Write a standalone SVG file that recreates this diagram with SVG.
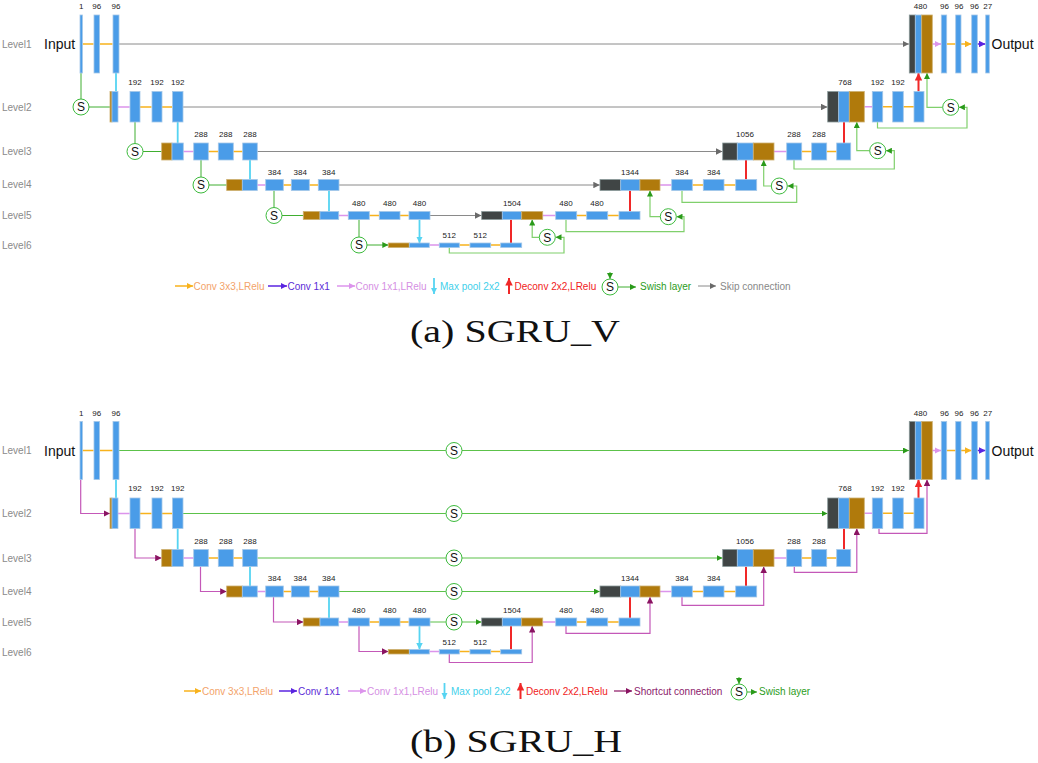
<svg xmlns="http://www.w3.org/2000/svg" width="1038" height="763" viewBox="0 0 1038 763">
<style>
.b{fill:#4a9ce8;stroke:#a3c7e8;stroke-width:.8}
.br{fill:#b07a0c;stroke:#cdb070;stroke-width:.8}
.dk{fill:#404545;stroke:#8a9a9a;stroke-width:.8}
.n{font-family:"Liberation Sans",Arial,sans-serif;font-size:8px;fill:#222;text-anchor:middle}
.lv{font-family:"Liberation Sans",Arial,sans-serif;font-size:10px;fill:#8a8a8a}
.io{font-family:"Liberation Sans",Arial,sans-serif;font-size:14px;fill:#111}
.s circle{fill:#fff;stroke:#3cba3c;stroke-width:1}
.s text{font-family:"Liberation Sans",Arial,sans-serif;font-size:12px;text-anchor:middle;fill:#111}
.lg{font-family:"Liberation Sans",Arial,sans-serif;font-size:10px}
.cap{font-family:"Liberation Serif","Times New Roman",serif;font-size:31px;fill:#111}
.o{stroke:#f8b21c;stroke-width:1.5;fill:none;marker-end:url(#mO)}
.p{stroke:#dc94ec;stroke-width:1.5;fill:none;marker-end:url(#mP)}
.c{stroke:#56d4f2;stroke-width:1.8;fill:none;marker-end:url(#mC)}
.r{stroke:#f02828;stroke-width:2;fill:none;marker-end:url(#mR)}
.u{stroke:#5a24e0;stroke-width:1.5;fill:none;marker-end:url(#mU)}
.g{stroke:#3fae30;stroke-width:1;fill:none;marker-end:url(#mG)}
.gl{stroke:#80d06c;stroke-width:1.2;fill:none;marker-end:url(#mG)}
.gs{stroke:#5cc24a;stroke-width:1.2;fill:none;marker-end:url(#mG)}
.k{stroke:#8a8a8a;stroke-width:1;fill:none;marker-end:url(#mK)}
.sc{stroke:#c458b8;stroke-width:1.2;fill:none;marker-end:url(#mS)}
</style>
<defs>
<marker id="mO" markerUnits="userSpaceOnUse" viewBox="0 0 10 10" refX="10" refY="5" markerWidth="6.5" markerHeight="6.5" orient="auto"><path d="M0,0L10,5L0,10z" fill="#f8b21c"/></marker>
<marker id="mP" markerUnits="userSpaceOnUse" viewBox="0 0 10 10" refX="10" refY="5" markerWidth="6.5" markerHeight="6.5" orient="auto"><path d="M0,0L10,5L0,10z" fill="#dc94ec"/></marker>
<marker id="mC" markerUnits="userSpaceOnUse" viewBox="0 0 10 10" refX="10" refY="5" markerWidth="6.5" markerHeight="6.5" orient="auto"><path d="M0,0L10,5L0,10z" fill="#56d4f2"/></marker>
<marker id="mR" markerUnits="userSpaceOnUse" viewBox="0 0 10 10" refX="10" refY="5" markerWidth="7.5" markerHeight="7.5" orient="auto"><path d="M0,0L10,5L0,10z" fill="#f02828"/></marker>
<marker id="mU" markerUnits="userSpaceOnUse" viewBox="0 0 10 10" refX="10" refY="5" markerWidth="6.5" markerHeight="6.5" orient="auto"><path d="M0,0L10,5L0,10z" fill="#5a24e0"/></marker>
<marker id="mG" markerUnits="userSpaceOnUse" viewBox="0 0 10 10" refX="10" refY="5" markerWidth="6" markerHeight="6" orient="auto"><path d="M0,0L10,5L0,10z" fill="#2a9a1a"/></marker>
<marker id="mK" markerUnits="userSpaceOnUse" viewBox="0 0 10 10" refX="10" refY="5" markerWidth="6.5" markerHeight="6.5" orient="auto"><path d="M0,0L10,5L0,10z" fill="#6a6a6a"/></marker>
<marker id="mS" markerUnits="userSpaceOnUse" viewBox="0 0 10 10" refX="10" refY="5" markerWidth="6.5" markerHeight="6.5" orient="auto"><path d="M0,0L10,5L0,10z" fill="#8a1462"/></marker>
</defs>
<rect width="1038" height="763" fill="#fff"/>

<!-- ================= PART A ================= -->
<g id="part-a">
<g id="a-levels">
<text class="lv" x="2" y="47.5">Level1</text>
<text class="lv" x="2" y="110.5">Level2</text>
<text class="lv" x="2" y="155">Level3</text>
<text class="lv" x="2" y="188">Level4</text>
<text class="lv" x="2" y="219">Level5</text>
<text class="lv" x="2" y="249">Level6</text>
</g>
<g id="a-connectors">
<path class="o" d="M82.5,44H93.5M99.5,44H112.5M140,107H151.5M162,107H172M208.3,151.5H218M233.3,151.5H242.5M283.3,185H291M309.3,185H318M369.3,215.5H379M400,215.5H408.7M459.3,245H469.7M490.7,245H500.5M576.7,215.5H586.5M607.7,215.5H618.7M692.3,185H703M724,185H735.5M801.7,151.5H811.5M826.7,151.5H836.5M882.7,106.7H892.5M903.3,106.7H913.8M946.7,44H955.5M961,44H971.5"/>
<path class="u" d="M977.3,44H985.5"/>
<path class="p" d="M118,107H129.7M183.3,151.5H193.5M257.3,185H265.5M338.7,215.5H348M429.3,245H439M542.7,215.5H555.5M660,185H671.5M774,151.5H786.5M864.3,106.7H872M932.3,44H941"/>
<path class="k" d="M119,44H909"/>
<path class="k" d="M183,107H827.5"/>
<path class="k" d="M257.3,151.5H722.5"/>
<path class="k" d="M339,185H599.8"/>
<path class="k" d="M430,215.5H481.5"/>
<path class="c" d="M116,73V91.5M177.7,122V143M250,160V179.5M329,190.5V211.5M419.5,219.5V243"/>
<path class="r" d="M511,243V219.5M630,211.5V190.5M746,179.5V160M844,143V122M918.5,91.5V73"/>
<path class="g" d="M81,73V99M89,107H110M135,122V143.5M143,151.5H161.7M201,160V177M209,185H226.7M274,190.5V207.5M282,215.5H303.3M359,219.5V237M367,245H388.3"/>
<path class="gl" d="M449.3,247.5V253H564V237.3H555.5"/>
<path class="gl" d="M539.3,237.3H532.2V219.5"/>
<path class="gl" d="M566,219.5V231.7H684V216.7H676.5"/>
<path class="gl" d="M660.3,216.7H650V190.5"/>
<path class="gl" d="M682,190.5V202.3H796.7V186H787.5"/>
<path class="gl" d="M771.3,186H763.7V160"/>
<path class="gl" d="M794,160V169H894.3V150.7H885.9"/>
<path class="gl" d="M869.7,150.7H856.8V122"/>
<path class="gl" d="M877.5,122V128H967V107.3H958.9"/>
<path class="gl" d="M942.7,107.3H927V73"/>
</g>
<text id="a-input" class="io" x="44" y="49">Input</text>
<text id="a-output" class="io" x="991.5" y="49">Output</text>
<g id="a-n1"><rect class="b" x="80" y="15" width="2.4" height="58"/><text class="n" x="81.2" y="9">1</text></g>
<g id="a-n96a"><rect class="b" x="94" y="15" width="5.5" height="58"/><text class="n" x="96.8" y="9">96</text></g>
<g id="a-n96b"><rect class="b" x="113" y="15" width="6" height="58"/><text class="n" x="116" y="9">96</text></g>
<g id="a-S2" class="s"><circle cx="81" cy="107" r="8"/><text x="81" y="111.3">S</text></g>
<g id="a-cat2"><rect class="br" x="110" y="91.5" width="2" height="30.5"/><rect class="b" x="112" y="91.5" width="6" height="30.5"/></g>
<g id="a-e192a"><rect class="b" x="130" y="91.5" width="10" height="30.5"/><text class="n" x="135" y="84.5">192</text></g>
<g id="a-e192b"><rect class="b" x="152" y="91.5" width="10" height="30.5"/><text class="n" x="157" y="84.5">192</text></g>
<g id="a-e192c"><rect class="b" x="172.5" y="91.5" width="10.5" height="30.5"/><text class="n" x="177.7" y="84.5">192</text></g>
<g id="a-S3" class="s"><circle cx="135" cy="151.5" r="8"/><text x="135" y="155.8">S</text></g>
<g id="a-cat3"><rect class="br" x="161.7" y="143" width="10.3" height="17"/><rect class="b" x="172" y="143" width="11.3" height="17"/></g>
<g id="a-e288a"><rect class="b" x="193.7" y="143" width="14.6" height="17"/><text class="n" x="201" y="137">288</text></g>
<g id="a-e288b"><rect class="b" x="218.3" y="143" width="15" height="17"/><text class="n" x="225.8" y="137">288</text></g>
<g id="a-e288c"><rect class="b" x="242.7" y="143" width="14.6" height="17"/><text class="n" x="250" y="137">288</text></g>
<g id="a-S4" class="s"><circle cx="201" cy="185" r="8"/><text x="201" y="189.3">S</text></g>
<g id="a-cat4"><rect class="br" x="226.7" y="179.5" width="15.6" height="11"/><rect class="b" x="242.3" y="179.5" width="15" height="11"/></g>
<g id="a-e384a"><rect class="b" x="265.7" y="179.5" width="17.6" height="11"/><text class="n" x="274.5" y="174.5">384</text></g>
<g id="a-e384b"><rect class="b" x="291.3" y="179.5" width="18" height="11"/><text class="n" x="300.3" y="174.5">384</text></g>
<g id="a-e384c"><rect class="b" x="318.3" y="179.5" width="20.7" height="11"/><text class="n" x="328.7" y="174.5">384</text></g>
<g id="a-S5" class="s"><circle cx="274" cy="215.5" r="8"/><text x="274" y="219.8">S</text></g>
<g id="a-cat5"><rect class="br" x="303.3" y="211.5" width="16.7" height="8"/><rect class="b" x="320" y="211.5" width="18.7" height="8"/></g>
<g id="a-e480a"><rect class="b" x="348.3" y="211.5" width="21" height="8"/><text class="n" x="358.8" y="206">480</text></g>
<g id="a-e480b"><rect class="b" x="379.3" y="211.5" width="20.7" height="8"/><text class="n" x="389.7" y="206">480</text></g>
<g id="a-e480c"><rect class="b" x="409" y="211.5" width="21" height="8"/><text class="n" x="419.5" y="206">480</text></g>
<g id="a-S6" class="s"><circle cx="359" cy="245" r="8"/><text x="359" y="249.3">S</text></g>
<g id="a-cat6"><rect class="br" x="388.3" y="243" width="21" height="4.5"/><rect class="b" x="409.3" y="243" width="20" height="4.5"/></g>
<g id="a-e512a"><rect class="b" x="439.3" y="243" width="20" height="4.5"/><text class="n" x="449.3" y="238">512</text></g>
<g id="a-e512b"><rect class="b" x="470" y="243" width="20.7" height="4.5"/><text class="n" x="480.3" y="238">512</text></g>
<g id="a-e512c"><rect class="b" x="500.7" y="243" width="21" height="4.5"/></g>
<g id="a-Sd6" class="s"><circle cx="547.3" cy="237.3" r="8"/><text x="547.3" y="241.6">S</text></g>
<g id="a-cat1504"><rect class="dk" x="481.7" y="211.5" width="20.6" height="8"/><rect class="b" x="502.3" y="211.5" width="19.4" height="8"/><rect class="br" x="521.7" y="211.5" width="21" height="8"/><text class="n" x="512" y="206">1504</text></g>
<g id="a-d480a"><rect class="b" x="555.7" y="211.5" width="21" height="8"/><text class="n" x="566" y="206">480</text></g>
<g id="a-d480b"><rect class="b" x="586.7" y="211.5" width="21" height="8"/><text class="n" x="597" y="206">480</text></g>
<g id="a-d480c"><rect class="b" x="619" y="211.5" width="21" height="8"/></g>
<g id="a-Sd5" class="s"><circle cx="668.3" cy="216.7" r="8"/><text x="668.3" y="221">S</text></g>
<g id="a-cat1344"><rect class="dk" x="600" y="179.5" width="20.7" height="11"/><rect class="b" x="620.7" y="179.5" width="19.3" height="11"/><rect class="br" x="640" y="179.5" width="20" height="11"/><text class="n" x="630" y="174.5">1344</text></g>
<g id="a-d384a"><rect class="b" x="671.7" y="179.5" width="20.6" height="11"/><text class="n" x="682" y="174.5">384</text></g>
<g id="a-d384b"><rect class="b" x="703.3" y="179.5" width="20.7" height="11"/><text class="n" x="713.7" y="174.5">384</text></g>
<g id="a-d384c"><rect class="b" x="735.7" y="179.5" width="21" height="11"/></g>
<g id="a-Sd4" class="s"><circle cx="779.3" cy="186" r="8"/><text x="779.3" y="190.3">S</text></g>
<g id="a-cat1056"><rect class="dk" x="722.7" y="143" width="14.6" height="17"/><rect class="b" x="737.3" y="143" width="16" height="17"/><rect class="br" x="753.3" y="143" width="20.7" height="17"/><text class="n" x="745" y="137">1056</text></g>
<g id="a-d288a"><rect class="b" x="786.7" y="143" width="15" height="17"/><text class="n" x="794" y="137">288</text></g>
<g id="a-d288b"><rect class="b" x="811.7" y="143" width="15" height="17"/><text class="n" x="819" y="137">288</text></g>
<g id="a-d288c"><rect class="b" x="836.7" y="143" width="14" height="17"/></g>
<g id="a-Sd3" class="s"><circle cx="877.7" cy="150.7" r="8"/><text x="877.7" y="155">S</text></g>
<g id="a-cat768"><rect class="dk" x="827.7" y="91.5" width="11" height="30.5"/><rect class="b" x="838.7" y="91.5" width="10.6" height="30.5"/><rect class="br" x="849.3" y="91.5" width="15" height="30.5"/><text class="n" x="845" y="84.5">768</text></g>
<g id="a-d192a"><rect class="b" x="872.3" y="91.5" width="10.4" height="30.5"/><text class="n" x="877.5" y="84.5">192</text></g>
<g id="a-d192b"><rect class="b" x="892.7" y="91.5" width="10.6" height="30.5"/><text class="n" x="898" y="84.5">192</text></g>
<g id="a-d192c"><rect class="b" x="914" y="91.5" width="10" height="30.5"/></g>
<g id="a-Sd2" class="s"><circle cx="950.7" cy="107.3" r="8"/><text x="950.7" y="111.6">S</text></g>
<g id="a-cat480"><rect class="dk" x="909.3" y="15" width="6" height="58"/><rect class="b" x="915.3" y="15" width="6.4" height="58"/><rect class="br" x="921.7" y="15" width="10.6" height="58"/><text class="n" x="920.5" y="9">480</text></g>
<g id="a-d96a"><rect class="b" x="941.3" y="15" width="5.4" height="58"/><text class="n" x="944.5" y="9">96</text></g>
<g id="a-d96b"><rect class="b" x="955.7" y="15" width="5.3" height="58"/><text class="n" x="959" y="9">96</text></g>
<g id="a-d96c"><rect class="b" x="971.7" y="15" width="5.6" height="58"/><text class="n" x="974.5" y="9">96</text></g>
<g id="a-d27"><rect class="b" x="985.7" y="15" width="3.6" height="58"/><text class="n" x="987.8" y="9">27</text></g>
</g>

<g id="legend-a">
<path class="o" d="M175,286H193"/><text class="lg" x="193.5" y="289.5" fill="#f3a36a">Conv 3x3,LRelu</text>
<path class="u" d="M268,286H287"/><text class="lg" x="287.5" y="289.5" fill="#5b2bd6">Conv 1x1</text>
<path class="p" d="M337,286H355"/><text class="lg" x="355.5" y="289.5" fill="#d58fe3">Conv 1x1,LRelu</text>
<path class="c" d="M434,278V294"/><text class="lg" x="440" y="289.5" fill="#3fd0ea">Max pool 2x2</text>
<path class="r" d="M509,294V278"/><text class="lg" x="514.5" y="289.5" fill="#f01c1c">Deconv 2x2,LRelu</text>
<path class="g" d="M610,272V279"/>
<g class="s"><circle cx="610" cy="287" r="8"/><text x="610" y="291.3">S</text></g>
<path class="g" d="M618,287H636"/><text class="lg" x="640" y="289.5" fill="#2c9c1c">Swish layer</text>
<path class="k" d="M698,286H716"/><text class="lg" x="720" y="289.5" fill="#888">Skip connection</text>
</g>
<text id="cap-a" class="cap" x="410" y="342" textLength="210" lengthAdjust="spacingAndGlyphs">(a) SGRU_V</text>

<!-- ================= PART B ================= -->
<g id="part-b" transform="translate(0,406.5)">
<g id="b-levels">
<text class="lv" x="2" y="47.5">Level1</text>
<text class="lv" x="2" y="110.5">Level2</text>
<text class="lv" x="2" y="155">Level3</text>
<text class="lv" x="2" y="188">Level4</text>
<text class="lv" x="2" y="219">Level5</text>
<text class="lv" x="2" y="249">Level6</text>
</g>
<g id="b-connectors">
<path class="o" d="M82.5,44H93.5M99.5,44H112.5M140,107H151.5M162,107H172M208.3,151.5H218M233.3,151.5H242.5M283.3,185H291M309.3,185H318M369.3,215.5H379M400,215.5H408.7M459.3,245H469.7M490.7,245H500.5M576.7,215.5H586.5M607.7,215.5H618.7M692.3,185H703M724,185H735.5M801.7,151.5H811.5M826.7,151.5H836.5M882.7,106.7H892.5M903.3,106.7H913.8M946.7,44H955.5M961,44H971.5"/>
<path class="u" d="M977.3,44H985.5"/>
<path class="p" d="M118,107H129.7M183.3,151.5H193.5M257.3,185H265.5M338.7,215.5H348M429.3,245H439M542.7,215.5H555.5M660,185H671.5M774,151.5H786.5M864.3,106.7H872M932.3,44H941"/>
<path class="c" d="M116,73V91.5M177.7,122V143M250,160V179.5M329,190.5V211.5M419.5,219.5V243"/>
<path class="r" d="M511,243V219.5M630,211.5V190.5M746,179.5V160M844,143V122M918.5,91.5V73"/>
<path class="gs" d="M119,44H445.8M462,44H909"/>
<path class="gs" d="M183,107H445.8M462,107H827.5"/>
<path class="gs" d="M257.3,151.5H445.8M462,151.5H722.5"/>
<path class="gs" d="M339,185H445.8M462,185H599.8"/>
<path class="gs" d="M430,215.5H445.8M462,215.5H481.5"/>
<path class="sc" d="M80.7,73V107H110"/>
<path class="sc" d="M135,122V151.5H161.7"/>
<path class="sc" d="M200.5,160V185H226.7"/>
<path class="sc" d="M273.5,190.5V215.5H303.3"/>
<path class="sc" d="M359,219.5V245H388.3"/>
<path class="sc" d="M449.3,247.5V256H532.2V219.5"/>
<path class="sc" d="M566,219.5V226.8H650V190.5"/>
<path class="sc" d="M682,190.5V198.8H763.7V160"/>
<path class="sc" d="M794.3,160V165.8H856.8V122"/>
<path class="sc" d="M879,122V126.8H927V73"/>
</g>
<text id="b-input" class="io" x="44" y="49">Input</text>
<text id="b-output" class="io" x="991.5" y="49">Output</text>
<g id="b-n1"><rect class="b" x="80" y="15" width="2.4" height="58"/><text class="n" x="81.2" y="9">1</text></g>
<g id="b-n96a"><rect class="b" x="94" y="15" width="5.5" height="58"/><text class="n" x="96.8" y="9">96</text></g>
<g id="b-n96b"><rect class="b" x="113" y="15" width="6" height="58"/><text class="n" x="116" y="9">96</text></g>
<g id="b-cat2"><rect class="br" x="110" y="91.5" width="2" height="30.5"/><rect class="b" x="112" y="91.5" width="6" height="30.5"/></g>
<g id="b-e192a"><rect class="b" x="130" y="91.5" width="10" height="30.5"/><text class="n" x="135" y="84.5">192</text></g>
<g id="b-e192b"><rect class="b" x="152" y="91.5" width="10" height="30.5"/><text class="n" x="157" y="84.5">192</text></g>
<g id="b-e192c"><rect class="b" x="172.5" y="91.5" width="10.5" height="30.5"/><text class="n" x="177.7" y="84.5">192</text></g>
<g id="b-cat3"><rect class="br" x="161.7" y="143" width="10.3" height="17"/><rect class="b" x="172" y="143" width="11.3" height="17"/></g>
<g id="b-e288a"><rect class="b" x="193.7" y="143" width="14.6" height="17"/><text class="n" x="201" y="137">288</text></g>
<g id="b-e288b"><rect class="b" x="218.3" y="143" width="15" height="17"/><text class="n" x="225.8" y="137">288</text></g>
<g id="b-e288c"><rect class="b" x="242.7" y="143" width="14.6" height="17"/><text class="n" x="250" y="137">288</text></g>
<g id="b-cat4"><rect class="br" x="226.7" y="179.5" width="15.6" height="11"/><rect class="b" x="242.3" y="179.5" width="15" height="11"/></g>
<g id="b-e384a"><rect class="b" x="265.7" y="179.5" width="17.6" height="11"/><text class="n" x="274.5" y="174.5">384</text></g>
<g id="b-e384b"><rect class="b" x="291.3" y="179.5" width="18" height="11"/><text class="n" x="300.3" y="174.5">384</text></g>
<g id="b-e384c"><rect class="b" x="318.3" y="179.5" width="20.7" height="11"/><text class="n" x="328.7" y="174.5">384</text></g>
<g id="b-cat5"><rect class="br" x="303.3" y="211.5" width="16.7" height="8"/><rect class="b" x="320" y="211.5" width="18.7" height="8"/></g>
<g id="b-e480a"><rect class="b" x="348.3" y="211.5" width="21" height="8"/><text class="n" x="358.8" y="206">480</text></g>
<g id="b-e480b"><rect class="b" x="379.3" y="211.5" width="20.7" height="8"/><text class="n" x="389.7" y="206">480</text></g>
<g id="b-e480c"><rect class="b" x="409" y="211.5" width="21" height="8"/><text class="n" x="419.5" y="206">480</text></g>
<g id="b-cat6"><rect class="br" x="388.3" y="243" width="21" height="4.5"/><rect class="b" x="409.3" y="243" width="20" height="4.5"/></g>
<g id="b-e512a"><rect class="b" x="439.3" y="243" width="20" height="4.5"/><text class="n" x="449.3" y="238">512</text></g>
<g id="b-e512b"><rect class="b" x="470" y="243" width="20.7" height="4.5"/><text class="n" x="480.3" y="238">512</text></g>
<g id="b-e512c"><rect class="b" x="500.7" y="243" width="21" height="4.5"/></g>
<g id="b-S1" class="s"><circle cx="454" cy="44" r="8"/><text x="454" y="48.3">S</text></g>
<g id="b-S2" class="s"><circle cx="454" cy="107" r="8"/><text x="454" y="111.3">S</text></g>
<g id="b-S3" class="s"><circle cx="454" cy="151.5" r="8"/><text x="454" y="155.8">S</text></g>
<g id="b-S4" class="s"><circle cx="454" cy="185" r="8"/><text x="454" y="189.3">S</text></g>
<g id="b-S5" class="s"><circle cx="454" cy="215.5" r="8"/><text x="454" y="219.8">S</text></g>
<g id="b-cat1504"><rect class="dk" x="481.7" y="211.5" width="20.6" height="8"/><rect class="b" x="502.3" y="211.5" width="19.4" height="8"/><rect class="br" x="521.7" y="211.5" width="21" height="8"/><text class="n" x="512" y="206">1504</text></g>
<g id="b-d480a"><rect class="b" x="555.7" y="211.5" width="21" height="8"/><text class="n" x="566" y="206">480</text></g>
<g id="b-d480b"><rect class="b" x="586.7" y="211.5" width="21" height="8"/><text class="n" x="597" y="206">480</text></g>
<g id="b-d480c"><rect class="b" x="619" y="211.5" width="21" height="8"/></g>
<g id="b-cat1344"><rect class="dk" x="600" y="179.5" width="20.7" height="11"/><rect class="b" x="620.7" y="179.5" width="19.3" height="11"/><rect class="br" x="640" y="179.5" width="20" height="11"/><text class="n" x="630" y="174.5">1344</text></g>
<g id="b-d384a"><rect class="b" x="671.7" y="179.5" width="20.6" height="11"/><text class="n" x="682" y="174.5">384</text></g>
<g id="b-d384b"><rect class="b" x="703.3" y="179.5" width="20.7" height="11"/><text class="n" x="713.7" y="174.5">384</text></g>
<g id="b-d384c"><rect class="b" x="735.7" y="179.5" width="21" height="11"/></g>
<g id="b-cat1056"><rect class="dk" x="722.7" y="143" width="14.6" height="17"/><rect class="b" x="737.3" y="143" width="16" height="17"/><rect class="br" x="753.3" y="143" width="20.7" height="17"/><text class="n" x="745" y="137">1056</text></g>
<g id="b-d288a"><rect class="b" x="786.7" y="143" width="15" height="17"/><text class="n" x="794" y="137">288</text></g>
<g id="b-d288b"><rect class="b" x="811.7" y="143" width="15" height="17"/><text class="n" x="819" y="137">288</text></g>
<g id="b-d288c"><rect class="b" x="836.7" y="143" width="14" height="17"/></g>
<g id="b-cat768"><rect class="dk" x="827.7" y="91.5" width="11" height="30.5"/><rect class="b" x="838.7" y="91.5" width="10.6" height="30.5"/><rect class="br" x="849.3" y="91.5" width="15" height="30.5"/><text class="n" x="845" y="84.5">768</text></g>
<g id="b-d192a"><rect class="b" x="872.3" y="91.5" width="10.4" height="30.5"/><text class="n" x="877.5" y="84.5">192</text></g>
<g id="b-d192b"><rect class="b" x="892.7" y="91.5" width="10.6" height="30.5"/><text class="n" x="898" y="84.5">192</text></g>
<g id="b-d192c"><rect class="b" x="914" y="91.5" width="10" height="30.5"/></g>
<g id="b-cat480"><rect class="dk" x="909.3" y="15" width="6" height="58"/><rect class="b" x="915.3" y="15" width="6.4" height="58"/><rect class="br" x="921.7" y="15" width="10.6" height="58"/><text class="n" x="920.5" y="9">480</text></g>
<g id="b-d96a"><rect class="b" x="941.3" y="15" width="5.4" height="58"/><text class="n" x="944.5" y="9">96</text></g>
<g id="b-d96b"><rect class="b" x="955.7" y="15" width="5.3" height="58"/><text class="n" x="959" y="9">96</text></g>
<g id="b-d96c"><rect class="b" x="971.7" y="15" width="5.6" height="58"/><text class="n" x="974.5" y="9">96</text></g>
<g id="b-d27"><rect class="b" x="985.7" y="15" width="3.6" height="58"/><text class="n" x="987.8" y="9">27</text></g>
</g>

<g id="legend-b">
<path class="o" d="M184,691H201"/><text class="lg" x="202" y="694.5" fill="#f3a36a">Conv 3x3,LRelu</text>
<path class="u" d="M279,691H297"/><text class="lg" x="298" y="694.5" fill="#5b2bd6">Conv 1x1</text>
<path class="p" d="M348,691H366"/><text class="lg" x="367" y="694.5" fill="#d58fe3">Conv 1x1,LRelu</text>
<path class="c" d="M444.5,683V699"/><text class="lg" x="451" y="694.5" fill="#3fd0ea">Max pool 2x2</text>
<path class="r" d="M520.5,699V683"/><text class="lg" x="526" y="694.5" fill="#f01c1c">Deconv 2x2,LRelu</text>
<path class="sc" d="M614,691H632" style="stroke:#8a1462"/><text class="lg" x="634" y="694.5" fill="#8b1a6b">Shortcut connection</text>
<path class="g" d="M739,677V684"/>
<g class="s"><circle cx="739" cy="692" r="8"/><text x="739" y="696.3">S</text></g>
<path class="g" d="M747,692H757"/><text class="lg" x="759" y="694.5" fill="#2c9c1c">Swish layer</text>
</g>
<text id="cap-b" class="cap" x="410" y="752" textLength="212" lengthAdjust="spacingAndGlyphs">(b) SGRU_H</text>
</svg>
